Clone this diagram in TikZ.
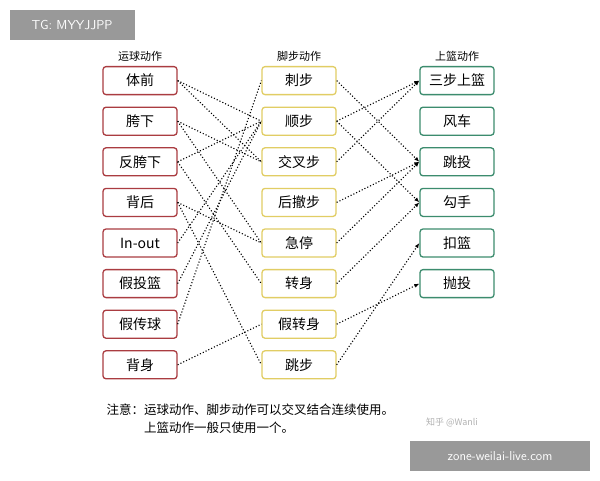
\documentclass[tikz,border=0pt]{standalone}
\usepackage{fontspec}
\setmainfont{Noto Sans CJK SC}
\usetikzlibrary{arrows.meta}
\definecolor{redb}{RGB}{170,60,65}
\definecolor{yelb}{RGB}{225,205,100}
\definecolor{grnb}{RGB}{60,140,110}
\tikzset{
  box/.style={draw, rounded corners=3pt, line width=1.3pt, minimum width=74pt, minimum height=28pt, font=\fontsize{14}{16}\selectfont, inner sep=0pt},
  lbox/.style={box, draw=redb},
  mbox/.style={box, draw=yelb},
  rbox/.style={box, draw=grnb},
  link/.style={dotted, line width=1.1pt},
  arrow/.style={link, -{Latex[length=5pt,width=4pt]}},
  head/.style={font=\fontsize{11}{13}\selectfont}
}
\begin{document}
\begin{tikzpicture}[x=1pt,y=-1pt]
\useasboundingbox (0,0) rectangle (600,480);
\fill[white] (0,0) rectangle (600,480);
% watermarks
\node (tg) [fill=black!40, text=white, minimum width=125pt, minimum height=30pt, font=\fontsize{13}{15}\selectfont\sffamily] at (72,25) {TG: MYYJJPP};
\node (site) [fill=black!40, text=white, minimum width=180pt, minimum height=30pt, font=\fontsize{13}{15}\selectfont\sffamily] at (500,456) {zone-weilai-live.com};
\node (zh) [text=black!30, font=\fontsize{9}{11}\selectfont] at (452,422) {知乎 @Wanli};
% headers
\node (hl) [head] at (140,56) {运球动作};
\node (hm) [head] at (299,56) {脚步动作};
\node (hr) [head] at (457,56) {上篮动作};
% columns
\foreach \n/\t [count=\i] in {l1/体前,l2/胯下,l3/反胯下,l4/背后,l5/In-out,l6/假投篮,l7/假传球,l8/背身}
  \node (\n) [lbox] at (140,{40.6*\i+40}) {\t};
\foreach \n/\t [count=\i] in {m1/刺步,m2/顺步,m3/交叉步,m4/后撤步,m5/急停,m6/转身,m7/假转身,m8/跳步}
  \node (\n) [mbox] at (299,{40.6*\i+40}) {\t};
\foreach \n/\t [count=\i] in {r1/三步上篮,r2/风车,r3/跳投,r4/勾手,r5/扣篮,r6/抛投}
  \node (\n) [rbox] at (457,{40.6*\i+40}) {\t};
% dribble to footwork
\foreach \a/\b in {l1/m2,l1/m3,l2/m3,l2/m5,l3/m2,l3/m6,l4/m5,l4/m8,l5/m2,l6/m2,l7/m1,l8/m7}
  \draw[link] (\a.east) -- (\b.west);
% footwork to finish
\foreach \a/\b in {m1/r3,m2/r1,m2/r4,m3/r1,m4/r3,m5/r3,m6/r4,m7/r6,m8/r5}
  \draw[arrow] (\a.east) -- (\b.west);
% note
\node (note) [align=left, anchor=north west, font=\fontsize{12.5}{18}\selectfont] at (103,400) {注意：运球动作、脚步动作可以交叉结合连续使用。\\\hspace{3em}上篮动作一般只使用一个。};
\end{tikzpicture}
\end{document}
